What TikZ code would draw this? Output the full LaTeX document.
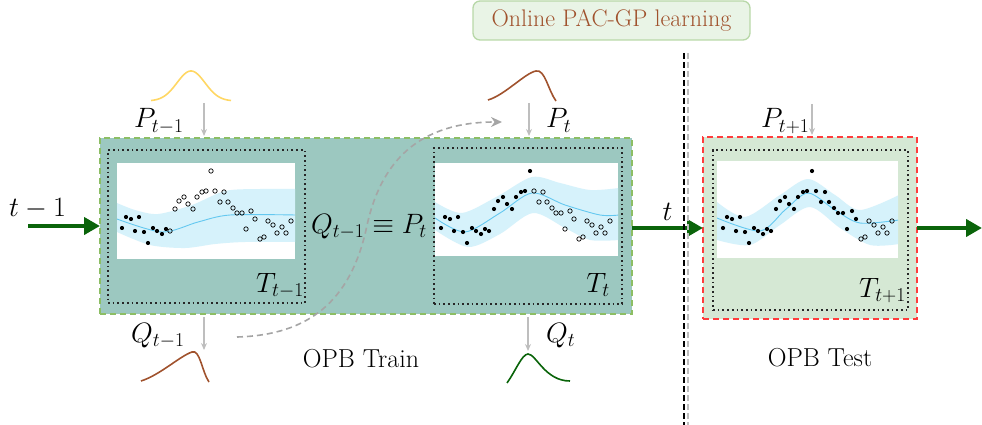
\RequirePackage{fix-cm}
\documentclass[tikz,border=0pt]{standalone}
\usetikzlibrary{arrows.meta}
\definecolor{trainfill}{RGB}{156,200,192}
\definecolor{testfill}{RGB}{213,232,212}
\definecolor{dashgreen}{RGB}{140,190,100}
\definecolor{dashred}{RGB}{255,60,60}
\definecolor{bandblue}{RGB}{214,242,251}
\definecolor{meanblue}{RGB}{100,200,240}
\definecolor{arrowgreen}{RGB}{10,100,10}
\definecolor{brownish}{RGB}{160,82,45}
\definecolor{bellyellow}{RGB}{255,215,100}
\definecolor{titlefill}{RGB}{233,244,230}
\definecolor{titledraw}{RGB}{184,216,168}
\definecolor{softgray}{RGB}{190,190,190}
\definecolor{curvegray}{RGB}{165,165,165}
\newcommand{\gpdata}{6/228,10/217,15/219,19/231,23/217,28/232,32/243,37/228,41/231,46/234,50/229,54/231,59/209,63/201,68/197,72/204,77/209,81/197,86/192,90/191,95/171,99/191,104/202,108/192,112/202,117/208,121/213,126/213,130/229,135/211,139/219,144/239,148/237,152/221,157/225,161/233,166/227,170/233,175/221}
\newcommand{\gppoints}[2]{%
  \foreach \px/\py [count=\gpi] in \gpdata {%
    \ifnum\gpi>#2\relax
      \draw[opendot] ({\px+#1},\py) circle (2.2);
    \else
      \fill ({\px+#1},\py) circle (2.1);
    \fi
  }}
\tikzset{
  titlebox/.style={draw=titledraw, fill=titlefill, line width=1.3pt, rounded corners=7pt,
    text=brownish, font=\fontsize{24}{28}\selectfont, inner sep=0, outer sep=0},
  trainbox/.style={draw=dashgreen, fill=trainfill, line width=1.5pt, dash pattern=on 6pt off 4pt, inner sep=0, outer sep=0},
  testbox/.style={draw=dashred, fill=testfill, line width=1.5pt, dash pattern=on 6pt off 4pt, inner sep=0, outer sep=0},
  dotbox/.style={draw=black!85, line width=1.7pt, dash pattern=on 1.7pt off 3pt, inner sep=0, outer sep=0},
  plotbg/.style={fill=white, inner sep=0, outer sep=0},
  mathlbl/.style={font=\fontsize{28}{31}\selectfont, inner sep=0},
  txtlbl/.style={font=\fontsize{26}{30}\selectfont, inner sep=0},
  meanline/.style={draw=meanblue, line width=0.9pt},
  opendot/.style={draw=black, line width=0.7pt},
  flowarrow/.style={draw=arrowgreen, line width=4pt, -{Triangle[length=16pt,width=17pt]}},
  priorarrow/.style={draw=softgray, line width=1.2pt, -{Stealth[length=7pt,width=6pt]}},
  flowcurve/.style={draw=curvegray, line width=1.6pt, dash pattern=on 6pt off 4pt, -{Stealth[length=11pt,width=10pt]}},
  bell/.style={line width=1.6pt},
}
\begin{document}
\begin{tikzpicture}[x=1pt,y=-1pt]
\useasboundingbox (0,0) rectangle (982,425);

% title
\node[titlebox, minimum width=277, minimum height=39] (title) at (611.5,20.5) {Online PAC-GP learning};

% main boxes
\node[trainbox, minimum width=532, minimum height=176] (train) at (366,226) {};
\node[testbox, minimum width=214, minimum height=182] (test) at (810,228) {};

% dotted boxes
\node[dotbox, minimum width=197, minimum height=153] (dotL) at (206.5,226.5) {};
\node[dotbox, minimum width=188, minimum height=156] (dotM) at (528,226) {};
\node[dotbox, minimum width=195, minimum height=160] (dotT) at (810.5,230) {};

% plot areas
\node[plotbg, minimum width=178, minimum height=96] (plotL) at (206,211) {};
\node[plotbg, minimum width=183, minimum height=93] (plotM) at (526.5,209.5) {};
\node[plotbg, minimum width=181, minimum height=97] (plotT) at (807.5,209.5) {};

% left plot
\begin{scope}
\clip (plotL.south west) rectangle (plotL.north east);
\fill[bandblue] plot[smooth] coordinates {(117,203) (135,210) (158,214) (192,205) (225,191) (260,189) (296,189)}
  -- plot[smooth] coordinates {(296,242) (245,242) (215,244) (185,248) (150,245) (117,232)} -- cycle;
\draw[meanline] plot[smooth] coordinates {(117,219) (162,232) (198,222) (230,215) (296,215)};
\end{scope}
\gppoints{116}{11}

% middle plot
\begin{scope}
\clip (plotM.south west) rectangle (plotM.north east);
\fill[bandblue] plot[smooth] coordinates {(435,202) (462,213) (498,196) (532,177) (560,183) (590,190) (619,188)}
  -- plot[smooth] coordinates {(619,240) (590,240) (565,228) (533,213) (500,234) (468,247) (435,230)} -- cycle;
\draw[meanline] plot[smooth] coordinates {(435,218) (465,232) (500,213) (532,193) (565,205) (600,215) (619,215)};
\end{scope}
\gppoints{435}{21}

% test plot
\begin{scope}
\clip (plotT.south west) rectangle (plotT.north east);
\fill[bandblue] plot[smooth] coordinates {(717,202) (745,217) (780,195) (808,179) (835,195) (860,210) (899,195)}
  -- plot[smooth] coordinates {(899,244) (870,245) (840,228) (810,207) (780,225) (750,245) (717,240)} -- cycle;
\draw[meanline] plot[smooth] coordinates {(717,218) (760,231) (785,210) (808,193) (835,210) (860,223) (899,220)};
\end{scope}
\gppoints{717}{31}

% box labels
\node[mathlbl, anchor=base east] (Tprev) at (304,292) {$T_{t-1}$};
\node[mathlbl, anchor=base east] (Tcur) at (610,292) {$T_t$};
\node[mathlbl, anchor=base east] (Tnext) at (906,297) {$T_{t+1}$};
\node[mathlbl, anchor=base] (equiv) at (369,233) {$Q_{t-1}\equiv P_t$};

% distribution labels
\node[mathlbl, anchor=base west] (Pprev) at (134,128) {$P_{t-1}$};
\node[mathlbl, anchor=base west] (Pcur) at (546,128) {$P_t$};
\node[mathlbl, anchor=base west] (Pnext) at (761,128) {$P_{t+1}$};
\node[mathlbl, anchor=base west] (Qprev) at (131,342) {$Q_{t-1}$};
\node[mathlbl, anchor=base west] (Qcur) at (546,342) {$Q_t$};

% time labels
\node[mathlbl, anchor=base] (tprevlbl) at (37.5,216) {$t-1$};
\node[mathlbl, anchor=base] (tlbl) at (667.5,220) {$t$};

% stage labels
\node[txtlbl, anchor=base] (trainlbl) at (361,367) {OPB Train};
\node[txtlbl, anchor=base] (testlbl) at (820,366) {OPB Test};

% distributions
\draw[bell, bellyellow] plot[domain=151:231, samples=80] (\x, {101-30*exp(-((\x-191)/14)^2/2)});
\draw[bell, brownish] (488,100) .. controls (505,95) and (525,73) .. (536,71) .. controls (545,69) and (548,90) .. (556,101);
\draw[bell, brownish] (141,381) .. controls (160,375) and (180,356) .. (192,352) .. controls (200,349) and (202,372) .. (209,382);
\draw[bell, arrowgreen] (507,383) .. controls (515,372) and (522,354) .. (528,354) .. controls (536,354) and (545,381) .. (570,381);

% prior / posterior arrows
\coordinate (pA) at (204,103);
\coordinate (pB) at (529,103);
\coordinate (pC) at (812,104);
\coordinate (qA) at (204,350);
\coordinate (qB) at (528,351);
\draw[priorarrow, shorten >=2pt] (pA) -- (pA |- train.north);
\draw[priorarrow, shorten >=2pt] (pB) -- (pB |- train.north);
\draw[priorarrow, shorten >=2pt] (pC) -- (pC |- test.north);
\draw[priorarrow, shorten <=3pt] (qA |- train.south) -- (qA);
\draw[priorarrow, shorten <=3pt] (qB |- train.south) -- (qB);

% flow arrows
\coordinate (inL) at (28,226);
\coordinate (outR) at (982,228);
\draw[flowarrow] (inL) -- (train.west);
\draw[flowarrow] (train.east |- test.west) -- (test.west);
\draw[flowarrow] (test.east) -- (outR);

% posterior becomes prior
\coordinate (sStart) at (237,337);
\coordinate (sMid) at (366,230);
\coordinate (sEnd) at (502,122);
\draw[flowcurve] (sStart) .. controls (310,335) and (350,300) .. (sMid) .. controls (380,160) and (420,122) .. (sEnd);

% separator
\coordinate (sepA) at (684,53);
\coordinate (sepB) at (684,425);
\coordinate (sepC) at (688,53);
\coordinate (sepD) at (688,425);
\draw[softgray, line width=1.2pt, dash pattern=on 6pt off 3pt] (sepC) -- (sepD);
\draw[black, line width=1.3pt, dash pattern=on 6pt off 3pt] (sepA) -- (sepB);
\end{tikzpicture}
\end{document}
